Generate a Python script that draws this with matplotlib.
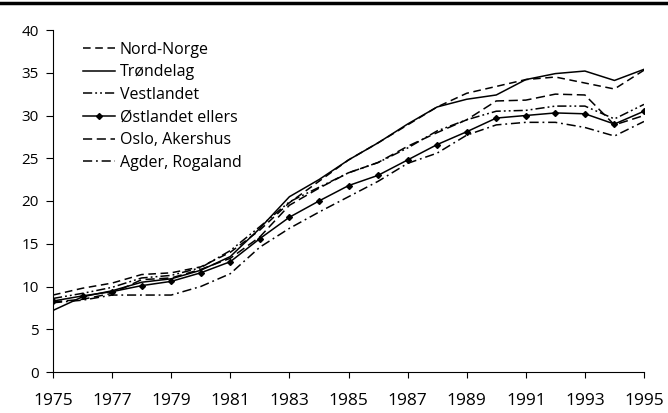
import numpy as np
import matplotlib
matplotlib.use("Agg")
import matplotlib.pyplot as plt
from matplotlib.lines import Line2D

years = np.arange(1975, 1996)

nord_norge = [9.0, 9.8, 10.4, 11.4, 11.6, 12.3, 14.0, 16.6, 19.8, 22.3, 24.8, 26.8, 28.9, 31.0, 32.6, 33.4, 34.2, 34.5, 33.8, 33.1, 35.3]
trondelag = [7.2, 8.8, 9.5, 10.5, 10.9, 11.9, 13.5, 16.8, 20.5, 22.5, 24.8, 26.8, 29.0, 31.0, 31.9, 32.4, 34.2, 34.9, 35.2, 34.1, 35.4]
vestlandet = [8.6, 9.2, 9.9, 11.0, 11.3, 12.2, 14.2, 17.0, 19.9, 21.6, 23.3, 24.5, 26.2, 28.2, 29.5, 30.5, 30.6, 31.1, 31.1, 29.6, 31.3]
ostlandet = [8.3, 8.9, 9.4, 10.1, 10.6, 11.6, 12.9, 15.6, 18.1, 20.0, 21.8, 23.0, 24.8, 26.6, 28.1, 29.7, 30.0, 30.3, 30.2, 29.0, 30.5]
oslo = [8.2, 8.5, 9.2, 10.8, 11.0, 12.0, 13.3, 15.8, 19.5, 21.5, 23.3, 24.5, 26.4, 28.0, 29.5, 31.7, 31.8, 32.5, 32.4, 28.9, 30.0]
agder = [8.1, 8.4, 9.0, 9.0, 9.0, 10.0, 11.5, 14.6, 16.8, 18.7, 20.5, 22.3, 24.4, 25.6, 27.7, 28.9, 29.2, 29.2, 28.6, 27.6, 29.3]

plt.rcParams['font.family'] = ['Open Sans', 'DejaVu Sans']

fig = plt.figure(figsize=(6.68, 4.13), dpi=100)
ax = fig.add_axes([53 / 668, 1 - 372 / 413, 591 / 668, 342 / 413])

lw = 1.1
ax.plot(years, nord_norge, color='black', lw=lw, dashes=(5, 3), label='Nord-Norge')
ax.plot(years, trondelag, color='black', lw=lw, label='Trøndelag')
ax.plot(years, vestlandet, color='black', lw=lw, dashes=(6, 2, 1.2, 2, 1.2, 2), label='Vestlandet')
ax.plot(years, ostlandet, color='black', lw=lw, marker='D', ms=3, label='Østlandet ellers')
ax.plot(years, oslo, color='black', lw=lw, dashes=(6, 3), label='Oslo, Akershus')
ax.plot(years, agder, color='black', lw=lw, dashes=(6, 2.5, 1.2, 2.5), label='Agder, Rogaland')

ax.set_xlim(1975, 1995)
ax.set_ylim(0, 40)
ax.set_xticks(np.arange(1975, 1996, 2))
ax.set_yticks(np.arange(0, 41, 5))
ax.spines['top'].set_visible(False)
ax.spines['right'].set_visible(False)
ax.spines['left'].set_linewidth(0.8)
ax.spines['bottom'].set_linewidth(0.8)
ax.tick_params(axis='y', direction='out', length=5, width=0.8, pad=5, labelsize=11)
ax.tick_params(axis='x', direction='out', length=4, width=0.8, pad=11, labelsize=12.5)

ax.legend(loc='upper left', bbox_to_anchor=(0.04, 0.985), frameon=False, fontsize=11.5,
          handlelength=2.0, handletextpad=0.3, labelspacing=0.42, borderaxespad=0)

fig.add_artist(Line2D([0, 1], [1 - 3 / 413, 1 - 3 / 413], color='black', lw=2.5))

fig.savefig('out.png', dpi=100)
